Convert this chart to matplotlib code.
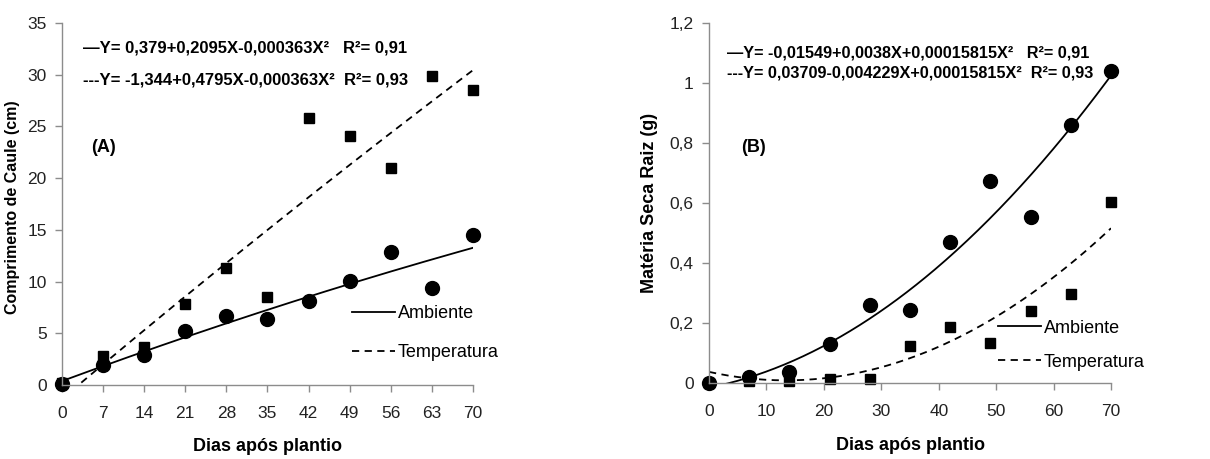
import numpy as np
import matplotlib
matplotlib.use('Agg')
import matplotlib.pyplot as plt

plt.rcParams['font.family'] = ['Liberation Sans', 'DejaVu Sans']

# dados (A) comprimento de caule
dias_a = [0, 7, 14, 21, 28, 35, 42, 49, 56, 63, 70]
caule_amb = [0.1, 1.9, 2.9, 5.2, 6.7, 6.4, 8.1, 10.1, 12.9, 9.4, 14.5]
caule_temp = [0.2, 2.8, 3.7, 7.8, 11.3, 8.5, 25.8, 24.1, 21.0, 29.9, 28.5]
coef_a_amb = [0.379, 0.2095, -0.000363]
coef_a_temp = [-1.344, 0.4795, -0.000363]

# dados (B) materia seca raiz
dias_b = [0, 7, 14, 21, 28, 35, 42, 49, 56, 63, 70]
raiz_amb = [0.0, 0.02, 0.035, 0.13, 0.26, 0.245, 0.47, 0.675, 0.555, 0.86, 1.04]
raiz_temp = [0.0, 0.006, 0.006, 0.014, 0.014, 0.125, 0.188, 0.135, 0.24, 0.298, 0.605]
coef_b_amb = [-0.01549, 0.0038, 0.00015815]
coef_b_temp = [0.03709, -0.004229, 0.00015815]

eq_a = ['\u2014Y= 0,379+0,2095X-0,000363X\u00b2   R\u00b2= 0,91',
        '---Y= -1,344+0,4795X-0,000363X\u00b2  R\u00b2= 0,93']
eq_b = ['\u2014Y= -0,01549+0,0038X+0,00015815X\u00b2   R\u00b2= 0,91',
        '---Y= 0,03709-0,004229X+0,00015815X\u00b2  R\u00b2= 0,93']


def poly(c, x):
    return c[0] + c[1] * x + c[2] * x ** 2


def style_axes(ax):
    for s in ['top', 'right']:
        ax.spines[s].set_visible(False)
    for s in ['left', 'bottom']:
        ax.spines[s].set_color('#8c8c8c')
        ax.spines[s].set_linewidth(1.0)
    ax.tick_params(axis='both', colors='#8c8c8c', labelcolor='#222222',
                   labelsize=12.5, length=5, width=1.0)
    ax.tick_params(axis='x', pad=10)
    ax.tick_params(axis='y', pad=6)


fig = plt.figure(figsize=(12.1, 4.59), dpi=100)
ax1 = fig.add_axes([0.0512, 0.1612, 0.3397, 0.7887])
ax2 = fig.add_axes([0.586, 0.1656, 0.3322, 0.784])

xs = np.linspace(0, 70, 300)
leg_kw = dict(loc='center left', frameon=False, fontsize=13, handlelength=2.4,
              handletextpad=0.15, borderpad=0, borderaxespad=0)

# painel A
ax1.plot(xs, poly(coef_a_amb, xs), color='black', lw=1.3, label='Ambiente')
ax1.plot(xs, poly(coef_a_temp, xs), color='black', lw=1.3, ls=(0, (4, 3)), label='Temperatura')
ax1.plot(dias_a, caule_temp, 's', color='black', ms=7, clip_on=False)
ax1.plot(dias_a, caule_amb, 'o', color='black', ms=10, clip_on=False)
ax1.set_xlim(0, 70)
ax1.set_ylim(0, 35)
ax1.set_xticks(dias_a)
ax1.set_yticks(range(0, 36, 5))
style_axes(ax1)
ax1.set_xlabel('Dias após plantio', fontsize=13, fontweight='bold')
ax1.xaxis.set_label_coords(0.5, -0.145)
ax1.set_ylabel('Comprimento de Caule (cm)', fontsize=11.5, fontweight='bold')
ax1.yaxis.set_label_coords(-0.102, 0.49)
ax1.text(0.05, 0.931, eq_a[0], transform=ax1.transAxes, fontsize=12, fontweight='bold', va='center')
ax1.text(0.05, 0.843, eq_a[1], transform=ax1.transAxes, fontsize=12, fontweight='bold', va='center')
ax1.text(0.07, 0.655, '(A)', transform=ax1.transAxes, fontsize=13, fontweight='bold', va='center')
ax1.legend(bbox_to_anchor=(0.705, 0.143), labelspacing=1.2, **leg_kw)

# painel B
ax2.plot(xs, poly(coef_b_amb, xs), color='black', lw=1.3, label='Ambiente')
ax2.plot(xs, poly(coef_b_temp, xs), color='black', lw=1.3, ls=(0, (4, 3)), label='Temperatura')
ax2.plot(dias_b, raiz_temp, 's', color='black', ms=7, clip_on=False)
ax2.plot(dias_b, raiz_amb, 'o', color='black', ms=10, clip_on=False)
ax2.set_xlim(0, 70)
ax2.set_ylim(0, 1.2)
ax2.set_xticks(range(0, 71, 10))
yt = [0, 0.2, 0.4, 0.6, 0.8, 1.0, 1.2]
ax2.set_yticks(yt)
ax2.set_yticklabels(['0', '0,2', '0,4', '0,6', '0,8', '1', '1,2'])
style_axes(ax2)
ax2.set_xlabel('Dias após plantio', fontsize=13, fontweight='bold')
ax2.xaxis.set_label_coords(0.5, -0.15)
ax2.set_ylabel('Matéria Seca Raiz (g)', fontsize=13, fontweight='bold')
ax2.yaxis.set_label_coords(-0.127, 0.5)
ax2.text(0.045, 0.917, eq_b[0], transform=ax2.transAxes, fontsize=11.7, fontweight='bold', va='center')
ax2.text(0.045, 0.861, eq_b[1], transform=ax2.transAxes, fontsize=11.7, fontweight='bold', va='center')
ax2.text(0.08, 0.655, '(B)', transform=ax2.transAxes, fontsize=13, fontweight='bold', va='center')
ax2.legend(bbox_to_anchor=(0.719, 0.105), labelspacing=0.95, **leg_kw)

fig.savefig('out.png', dpi=100)
